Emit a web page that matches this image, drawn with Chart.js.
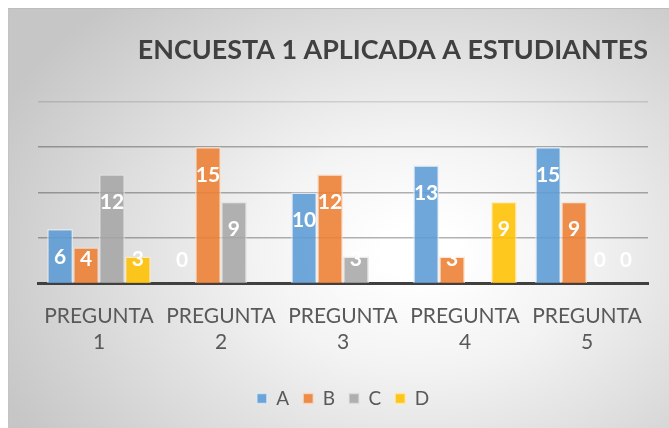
<!DOCTYPE html>
<html>
<head>
<meta charset="utf-8">
<script src="https://cdn.jsdelivr.net/npm/chart.js@4.4.1/dist/chart.umd.min.js"></script>
<style>
  html, body { margin: 0; padding: 0; background: #ffffff; }
  #wrap { position: relative; width: 669px; height: 428px; overflow: hidden; }
  #bg { position: absolute; left: 8px; top: 8px; width: 661px; height: 420px;
        border-top: 1px solid #bdbdbd; border-left: 1px solid #c4c4c4; box-sizing: border-box;
        background: radial-gradient(ellipse 70% 80% at 62% 58%, #ffffff 8%, #f3f3f3 35%, #c6c6c6 100%); }
  #c { position: absolute; left: 0; top: 0; }
</style>
</head>
<body>
<div id="wrap">
  <div id="bg"></div>
  <canvas id="c" width="669" height="428"></canvas>
</div>
<script>
const titleText = 'ENCUESTA 1 APLICADA A ESTUDIANTES';
const categories = [['PREGUNTA', '1'], ['PREGUNTA', '2'], ['PREGUNTA', '3'], ['PREGUNTA', '4'], ['PREGUNTA', '5']];
const seriesNames = ['A', 'B', 'C', 'D'];
const valuesA = [6, 0, 10, 13, 15];
const valuesB = [4, 15, 12, 3, 9];
const valuesC = [12, 9, 3, null, 0];
const valuesD = [3, null, null, 9, 0];
const yTicks = [0, 5, 10, 15, 20];

const fills = ['rgba(91,155,213,0.88)', 'rgba(237,125,49,0.88)', 'rgba(165,165,165,0.85)', 'rgba(255,192,0,0.88)'];
const borders = ['rgba(225,236,248,0.7)', 'rgba(250,222,200,0.7)', 'rgba(225,225,225,0.7)', 'rgba(255,236,180,0.7)'];

// fit title to the reference width
const FONT = 'Lato, "Open Sans", sans-serif';
const mctx = document.createElement('canvas').getContext('2d');
mctx.font = 'bold 100px ' + FONT;
const titleSize = Math.round(511 / mctx.measureText(titleText).width * 100 * 10) / 10;

const dataLabels = {
  id: 'dataLabels',
  afterDatasetsDraw(chart) {
    const ctx = chart.ctx;
    ctx.save();
    ctx.font = 'bold 21px ' + FONT;
    ctx.fillStyle = '#ffffff';
    ctx.textAlign = 'center';
    ctx.textBaseline = 'middle';
    chart.data.datasets.forEach((ds, i) => {
      const meta = chart.getDatasetMeta(i);
      meta.data.forEach((el, j) => {
        const v = ds.data[j];
        if (v === null || v === undefined) return;
        const y = Math.min(el.y + 28, el.base - 24);
        ctx.fillText(String(v), el.x, y);
      });
    });
    ctx.restore();
  }
};

const allValues = [valuesA, valuesB, valuesC, valuesD];
new Chart(document.getElementById('c'), {
  type: 'bar',
  data: {
    labels: categories,
    datasets: seriesNames.map((n, i) => ({
      label: n,
      data: allValues[i],
      backgroundColor: fills[i],
      borderColor: borders[i],
      borderWidth: 1.5,
      categoryPercentage: 0.85,
      barPercentage: 1.0
    }))
  },
  options: {
    responsive: false,
    devicePixelRatio: 1,
    animation: false,
    layout: { padding: { left: 38, right: 21, top: 8, bottom: 10 } },
    plugins: {
      tooltip: { enabled: false },
      title: {
        display: true,
        text: titleText,
        align: 'end',
        color: '#404040',
        font: { family: FONT, size: titleSize, weight: 'bold' },
        padding: { top: 26, bottom: 35 }
      },
      legend: {
        position: 'bottom',
        labels: {
          color: '#595959',
          font: { family: FONT, size: 19 },
          boxWidth: 10,
          boxHeight: 10,
          padding: 14
        }
      }
    },
    scales: {
      x: {
        grid: { display: false },
        border: { display: true, color: '#404040', width: 3 },
        afterFit(scale) { scale.height += 8; },
        ticks: {
          color: '#595959',
          font: { family: FONT, size: 21, lineHeight: 1.22 },
          padding: 12,
          maxRotation: 0,
          autoSkip: false
        }
      },
      y: {
        min: yTicks[0],
        max: yTicks[yTicks.length - 1],
        afterBuildTicks(scale) { scale.ticks = yTicks.map(v => ({ value: v })); },
        ticks: { display: false },
        border: { display: false },
        grid: {
          drawTicks: false,
          color: (c) => c.tick && c.tick.value === 20 ? 'rgba(0,0,0,0.12)' : 'rgba(0,0,0,0.3)',
          lineWidth: 1.5
        }
      }
    }
  },
  plugins: [dataLabels]
});
</script>
</body>
</html>
